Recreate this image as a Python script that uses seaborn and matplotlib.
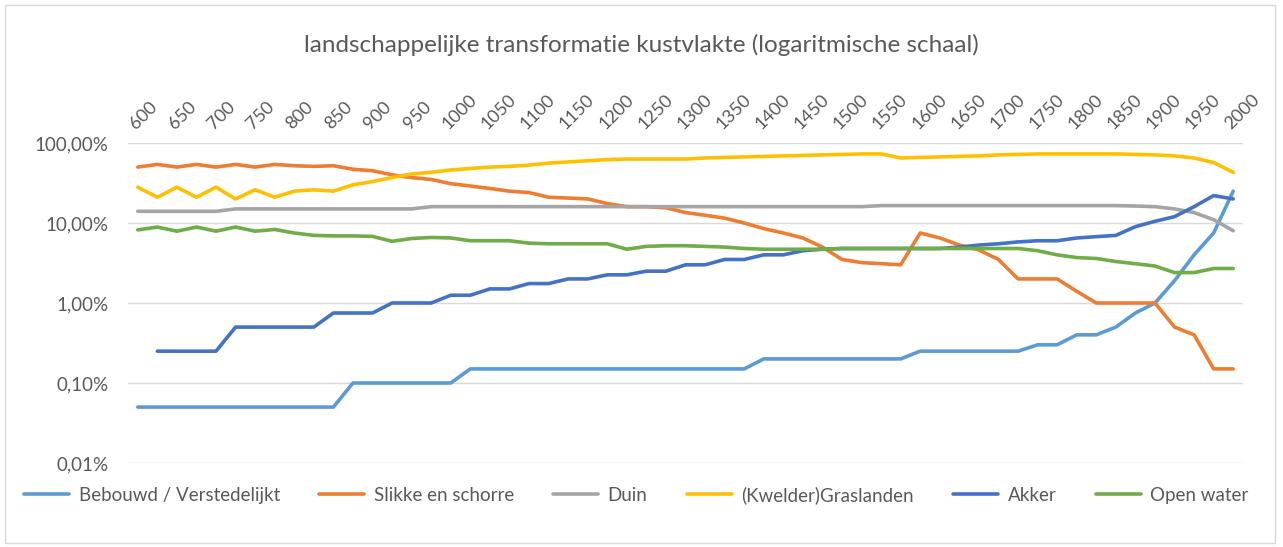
import numpy as np
import pandas as pd
import matplotlib
matplotlib.use("Agg")
import matplotlib.pyplot as plt
import seaborn as sns
from matplotlib.ticker import FixedLocator, FuncFormatter, NullLocator
from matplotlib.patches import Rectangle

years = list(range(600, 2001, 25))

bebouwd = ([0.05] * 11 + [0.1] * 6 + [0.15] * 15 + [0.2] * 8 + [0.25] * 6 +
           [0.3, 0.3, 0.4, 0.4, 0.5, 0.75, 1.0, 1.9, 4.0, 7.5, 25])
slikke = [50, 54, 50, 54, 50, 54, 50, 54, 52, 51, 52, 47, 45, 40, 37, 35, 31, 29, 27, 25,
          24, 21, 20.5, 20, 17.5, 16, 16, 15.5, 13.5, 12.5, 11.5, 10, 8.5, 7.5, 6.5, 5,
          3.5, 3.2, 3.1, 3.0, 7.5, 6.5, 5.3, 4.6, 3.5, 2.0, 2.0, 2.0, 1.4, 1.0, 1.0, 1.0,
          1.0, 0.5, 0.4, 0.15, 0.15]
duin = [14] * 5 + [15] * 10 + [16] * 23 + [16.5] * 13 + [16.3, 16, 15, 13.5, 11, 8]
graslanden = [28, 21, 28, 21, 28, 20, 26, 21, 25, 26, 25, 30, 33, 37, 41, 43, 46, 48, 50, 51,
              53, 56, 58, 60, 62, 63, 63, 63, 63, 65, 66, 67, 68, 69, 70, 71, 72, 73, 73, 65,
              66, 67, 68, 69, 71, 72, 73, 73, 73, 73, 73, 72, 71, 69, 65, 57, 43]
akker = [np.nan, 0.25, 0.25, 0.25, 0.25, 0.5, 0.5, 0.5, 0.5, 0.5, 0.75, 0.75, 0.75, 1.0, 1.0,
         1.0, 1.25, 1.25, 1.5, 1.5, 1.75, 1.75, 2.0, 2.0, 2.25, 2.25, 2.5, 2.5, 3.0, 3.0, 3.5,
         3.5, 4.0, 4.0, 4.5, 4.7, 4.8, 4.8, 4.8, 4.8, 4.8, 4.8, 5.0, 5.3, 5.5, 5.8, 6.0,
         6.0, 6.5, 6.75, 7.0, 9.0, 10.5, 12, 16, 22, 20]
open_water = [8.2, 8.9, 7.9, 8.9, 7.9, 8.9, 7.9, 8.3, 7.5, 7.0, 6.9, 6.9, 6.8, 5.9, 6.4, 6.6,
              6.5, 6.0, 6.0, 6.0, 5.6, 5.5, 5.5, 5.5, 5.5, 4.7, 5.1, 5.2, 5.2, 5.1, 5.0, 4.8,
              4.7, 4.7, 4.7, 4.7, 4.8, 4.8, 4.8, 4.8, 4.8, 4.8, 4.8, 4.8, 4.8, 4.8, 4.5, 4.0,
              3.7, 3.6, 3.3, 3.1, 2.9, 2.4, 2.4, 2.7, 2.7]

series_names = ["Bebouwd / Verstedelijkt", "Slikke en schorre", "Duin",
                "(Kwelder)Graslanden", "Akker", "Open water"]
series_values = [bebouwd, slikke, duin, graslanden, akker, open_water]
colors = ["#5B9BD5", "#ED7D31", "#A5A5A5", "#FFC000", "#4472C4", "#70AD47"]

x_tick_labels = list(range(600, 2001, 50))
y_ticks = [0.01, 0.1, 1, 10, 100]

frames = []
for name, vals in zip(series_names, series_values):
    frames.append(pd.DataFrame({"jaar": years, "waarde": vals, "reeks": name}))
df = pd.concat(frames, ignore_index=True).dropna()

sns.set_theme(style="white")
plt.rcParams["font.family"] = ["Lato", "DejaVu Sans"]
txt = "#595959"

fig = plt.figure(figsize=(12.83, 5.47), dpi=100)
ax = fig.add_axes([128 / 1283, 1 - 463 / 547, (1243 - 128) / 1283, (463 - 143) / 547])

sns.lineplot(data=df, x="jaar", y="waarde", hue="reeks", hue_order=series_names,
             palette=colors, linewidth=2.6, ax=ax, legend=True, sort=True)

ax.set_yscale("log")
ax.set_ylim(0.01, 100)
ax.set_xlim(600 - 12.5, 2000 + 12.5)
ax.yaxis.set_major_locator(FixedLocator(y_ticks))
ax.yaxis.set_minor_locator(NullLocator())
ax.yaxis.set_major_formatter(FuncFormatter(lambda v, p: f"{v:.2f}%".replace(".", ",")))
ax.grid(axis="y", color="#D9D9D9", linewidth=1.0)
ax.grid(axis="x", visible=False)
for s in ax.spines.values():
    s.set_visible(False)

ax.xaxis.tick_top()
ax.set_xticks(x_tick_labels)
ax.set_xticklabels([str(v) for v in x_tick_labels], rotation=45, ha="left",
                   va="bottom", rotation_mode="anchor", color=txt, fontsize=13)
ax.tick_params(axis="x", length=0, pad=8)
ax.tick_params(axis="y", length=0, pad=14, labelsize=13.5, labelcolor=txt)
ax.set_xlabel("")
ax.set_ylabel("")

handles, labels = ax.get_legend_handles_labels()
ax.get_legend().remove()
fig.legend(handles, labels, loc="center", bbox_to_anchor=(0.496, 1 - 495 / 547), ncol=6,
           frameon=False, fontsize=13.5, handlelength=2.4, columnspacing=2.1,
           handletextpad=0.5, labelcolor=txt)

fig.text(0.5, 1 - 45 / 547, "landschappelijke transformatie kustvlakte (logaritmische schaal)",
         ha="center", va="center", fontsize=17.5, color=txt)

fig.patches.append(Rectangle((5 / 1283, 4 / 547), 1270 / 1283, 538 / 547, transform=fig.transFigure,
                             fill=False, edgecolor="#D9D9D9", linewidth=1.0))

fig.savefig("out.png", dpi=100, facecolor="white")
